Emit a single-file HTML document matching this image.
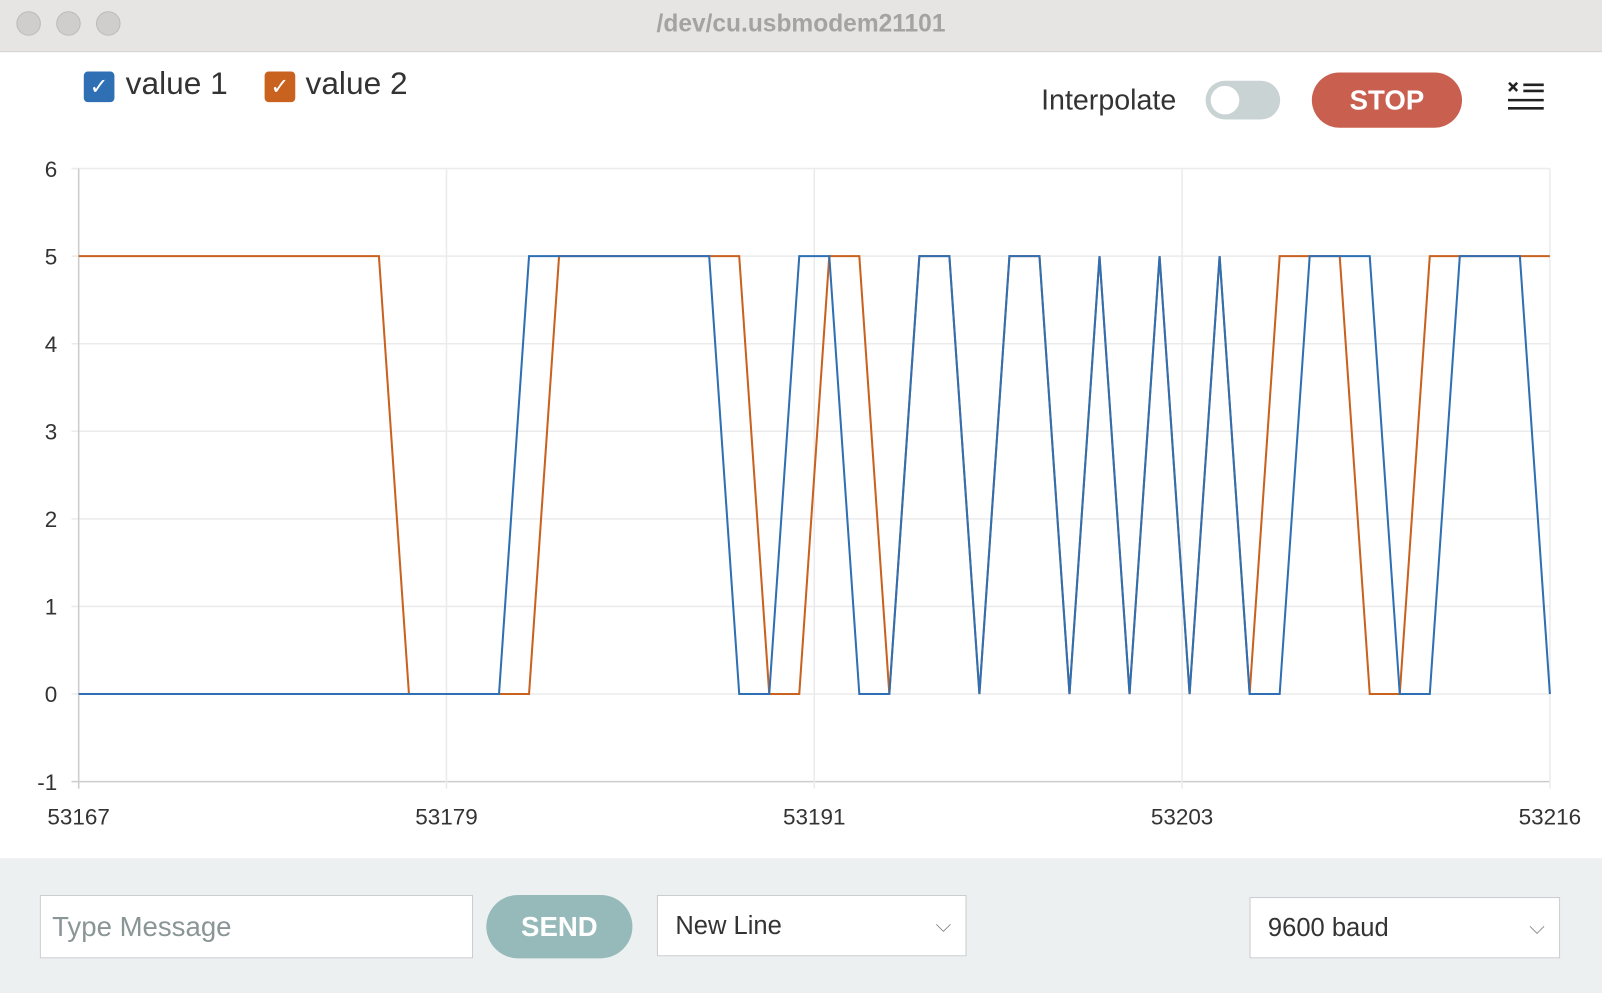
<!DOCTYPE html>
<html><head><meta charset="utf-8">
<style>
body{margin:0;width:1602px;height:993px;overflow:hidden;background:#fff;font-family:"Liberation Sans",sans-serif}
#wrap{position:absolute;left:0;top:0;width:1568px;height:972px;transform:scale(1.02168);transform-origin:0 0}
.abs{position:absolute}
#titlebar{left:0;top:0;width:1568px;height:50px;background:#e7e5e4;border-bottom:1px solid #d5d3d2}
.dot{width:22px;height:22px;border-radius:50%;background:#d0cecd;border:1px solid #bdbbba;top:11px}
#title{left:0;width:1568px;top:10px;text-align:center;font-size:24px;font-weight:bold;color:#a5a3a2}
.cb{width:30px;height:30px;border-radius:4px;top:70px;color:#fff;font-size:22px;text-align:center;line-height:30px}
.lg{top:64px;font-size:31px;color:#333}
#bottom{left:0;top:840px;width:1568px;height:132px;background:#ecf0f1}
.box{background:#fff;border:1.5px solid #c9cdce;font-size:25px;color:#333}
</style></head><body>
<div id="wrap">
<div class="abs" id="titlebar">
 <div class="abs dot" style="left:16px"></div>
 <div class="abs dot" style="left:55px"></div>
 <div class="abs dot" style="left:94px"></div>
 <div class="abs" id="title">/dev/cu.usbmodem21101</div>
</div>
<div class="abs cb" style="left:82px;background:#2f6fb3">✓</div>
<div class="abs lg" style="left:123px">value 1</div>
<div class="abs cb" style="left:259px;background:#c9621f">✓</div>
<div class="abs lg" style="left:299px">value 2</div>
<div class="abs" style="left:1019px;top:82px;font-size:28px;color:#333">Interpolate</div>
<div class="abs" style="left:1180px;top:79px;width:73px;height:38px;border-radius:19px;background:#c9d3d3"><div class="abs" style="left:5px;top:5px;width:28px;height:28px;border-radius:50%;background:#fff"></div></div>
<div class="abs" style="left:1284px;top:71px;width:147px;height:54px;border-radius:27px;background:#c9604f;color:#fff;font-size:27px;font-weight:bold;text-align:center;line-height:54px">STOP</div>
<div class="abs" style="left:1475px;top:76px;width:38px;height:40px">
 <svg width="38" height="40"><g stroke="#222" stroke-width="2.5"><line x1="2" y1="5" x2="10" y2="13"/><line x1="10" y1="5" x2="2" y2="13"/><line x1="16" y1="7" x2="36" y2="7"/><line x1="16" y1="13" x2="36" y2="13"/><line x1="1" y1="22" x2="36" y2="22"/><line x1="1" y1="30" x2="36" y2="30"/></g></svg>
</div>
<svg class="abs" id="chart" style="left:0;top:0" width="1568" height="840"></svg>
<div class="abs" id="bottom">
 <div class="abs box" style="left:39px;top:36px;width:422px;height:60px;line-height:60px;text-indent:11px;color:#8a9596;font-size:27px">Type Message</div>
 <div class="abs" style="left:476px;top:36px;width:143px;height:62px;border-radius:31px;background:#95bab9;color:#fff;font-size:27px;font-weight:bold;text-align:center;line-height:62px">SEND</div>
 <div class="abs box" style="left:643px;top:36px;width:301px;height:58px;line-height:58px;text-indent:17px">New Line<span class="abs" style="right:14px;top:0;color:#888;font-size:20px">⌵</span></div>
 <div class="abs box" style="left:1223px;top:38px;width:302px;height:58px;line-height:58px;text-indent:17px">9600 baud<span class="abs" style="right:14px;top:0;color:#888;font-size:20px">⌵</span></div>
</div>
</div>
<script>
const xStart=53167, xEnd=53216;
const xTickCount=4;
const yTicks=[-1,0,1,2,3,4,5,6];
const value1=[0,0,0,0,0,0,0,0,0,0,0,0,0,0,0,5,5,5,5,5,5,5,0,0,5,5,0,0,5,5,0,5,5,0,5,0,5,0,5,0,0,5,5,5,0,0,5,5,5,0];
const value2=[5,5,5,5,5,5,5,5,5,5,5,0,0,0,0,0,5,5,5,5,5,5,5,0,0,5,5,0,5,5,0,5,5,0,5,0,5,0,5,0,5,5,5,0,0,5,5,5,5,5];
const L=77,R=1517,T=165,B=765,yMin=-1,yMax=6;
const sx=v=>L+(v-xStart)/(xEnd-xStart)*(R-L);
const sy=v=>B-(v-yMin)/(yMax-yMin)*(B-T);
const svg=document.getElementById('chart'),NS='http://www.w3.org/2000/svg';
function mk(t,a){const e=document.createElementNS(NS,t);for(const k in a)e.setAttribute(k,a[k]);svg.appendChild(e);return e;}
yTicks.forEach(v=>{
 const g=mk('line',{x1:L-7,x2:R,y1:sy(v),y2:sy(v),stroke:v===yMin?'#ccc':'#ebebeb','stroke-width':1.5});
 
 
 const t=mk('text',{x:56,y:sy(v)+8,'text-anchor':'end','font-size':22,fill:'#333','font-family':'Liberation Sans'});
 t.textContent=v;
 
 
});
for(let k=0;k<=xTickCount;k++){
 const v=xStart+k*(xEnd-xStart)/xTickCount;
 const g=mk('line',{x1:sx(v),x2:sx(v),y1:T,y2:B+7,stroke:k===0?'#ccc':'#ebebeb','stroke-width':1.5});
 
 
 const t=mk('text',{x:sx(v),y:807,'text-anchor':'middle','font-size':22,fill:'#333','font-family':'Liberation Sans'});
 t.textContent=Math.floor(v);
 
 
}
function series(arr,color,name){
 const p=mk('polyline',{points:arr.map((v,i)=>sx(xStart+i)+','+sy(v)).join(' '),fill:'none',stroke:color,'stroke-width':2});
 
 
}
series(value2,'#c9621f','value2-line');
series(value1,'#2f6fb3','value1-line');
</script>
</body></html>
